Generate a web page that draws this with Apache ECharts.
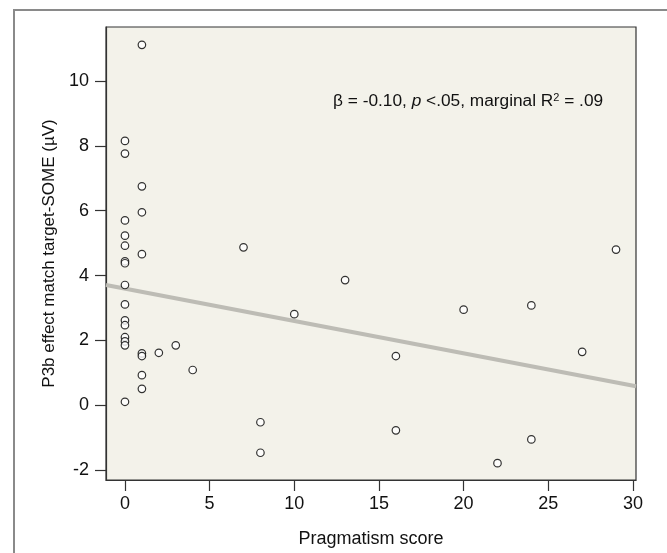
<!DOCTYPE html>
<html>
<head>
<meta charset="utf-8">
<script src="https://cdn.jsdelivr.net/npm/echarts@6/dist/echarts.min.js"></script>
<style>
html,body{margin:0;padding:0;background:#fff;}
#wrap{position:relative;width:667px;height:553px;overflow:hidden;}
#frame{position:absolute;left:13px;top:9px;width:700px;height:600px;border-top:2px solid #8a8a8a;border-left:2px solid #8a8a8a;box-sizing:border-box;}
#chart{position:absolute;left:0;top:0;width:667px;height:553px;}
</style>
</head>
<body>
<div id="wrap">
<div id="frame"></div>
<div id="chart"></div>
</div>
<script>
// Data
const pragmatismScore = [
  0,0,0,0,0,0,0,0,0,0,0,0,0,0,0,
  1,1,1,1,1,1,1,1,
  2,3,4,7,8,8,10,13,16,16,20,22,24,24,27,29
];
const p3bEffect = [
  8.15,7.76,5.70,5.23,4.92,4.44,4.38,3.71,3.11,2.62,2.47,2.10,1.97,1.85,0.11,
  11.11,6.75,5.95,4.66,1.60,1.52,0.93,0.51,
  1.62,1.85,1.09,4.87,-0.52,-1.46,2.81,3.86,1.52,-0.77,2.95,-1.78,3.08,-1.05,1.65,4.80
];
const fitX = [-1.12, 30.18];
const fitY = [3.71, 0.59];
const xTicks = [0,5,10,15,20,25,30];
const yTicks = [-2,0,2,4,6,8,10];

const chart = echarts.init(document.getElementById('chart'), null, {renderer:'canvas'});
const font = 'Liberation Sans, Arial, sans-serif';
const axisCol = '#333';
const option = {
  animation: false,
  backgroundColor: 'transparent',
  grid: {
    left: 106, top: 27, width: 530, height: 462,
    show: true, backgroundColor: '#f3f2ea', borderColor: axisCol, borderWidth: 1.2
  },
  xAxis: {
    type: 'value', min: -1.12, max: 30.18,
    name: 'Pragmatism score', nameLocation: 'middle', nameGap: 50,
    nameTextStyle: {fontFamily: font, fontSize: 18, color: '#111'},
    axisLine: {show: true, onZero: false, lineStyle: {color: axisCol, width: 1.2}},
    splitLine: {show: false},
    axisTick: {show: true, inside: false, length: 11, customValues: xTicks, lineStyle: {color: axisCol, width: 1.2}},
    axisLabel: {customValues: xTicks, margin: 15, fontFamily: font, fontSize: 18, color: '#111'}
  },
  yAxis: {
    type: 'value', min: -2.3, max: 11.66,
    name: 'P3b effect match target-SOME (µV)', nameLocation: 'middle', nameGap: 36,
    nameTextStyle: {fontFamily: font, fontSize: 17, color: '#111'},
    axisLine: {show: true, onZero: false, lineStyle: {color: axisCol, width: 1.2}},
    splitLine: {show: false},
    axisTick: {show: true, inside: false, length: 11, customValues: yTicks, lineStyle: {color: axisCol, width: 1.2}},
    axisLabel: {customValues: yTicks, margin: 17, fontFamily: font, fontSize: 18, color: '#111'}
  },
  graphic: [{
    type: 'text', left: 333, top: 92, z: 100,
    style: {
      text: '{n|β = -0.10, }{i|p}{n| <.05, marginal R}{s|2}{n| = .09}',
      rich: {
        n: {fontFamily: font, fontSize: 17.3, fill: '#111'},
        i: {fontFamily: font, fontSize: 17.3, fontStyle: 'italic', fill: '#111'},
        s: {fontFamily: font, fontSize: 11, fill: '#111', verticalAlign: 'top', padding: [0,0,8,0]}
      }
    }
  }],
  series: [
    {
      type: 'line', data: fitX.map((x, i) => [x, fitY[i]]),
      symbol: 'none', z: 2,
      lineStyle: {color: '#bdbcb5', width: 4}
    },
    {
      type: 'scatter', data: pragmatismScore.map((x, i) => [x, p3bEffect[i]]),
      symbol: 'circle', symbolSize: 7.5, z: 3,
      itemStyle: {color: '#ffffff', borderColor: '#000', borderWidth: 1.2}
    }
  ]
};
chart.setOption(option);
</script>
</body>
</html>
